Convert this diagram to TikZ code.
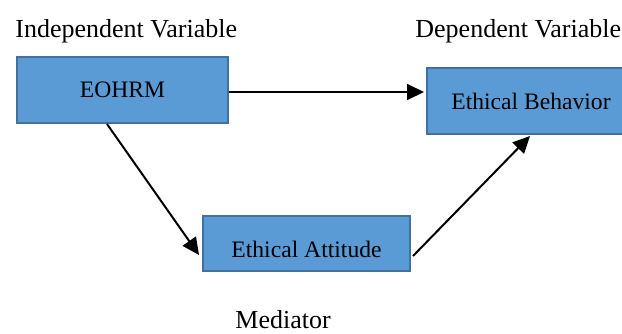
\documentclass[tikz,border=0pt]{standalone}
\usepackage{fontspec}
\setmainfont{Liberation Serif}
\usetikzlibrary{arrows.meta}
\definecolor{boxfill}{HTML}{5B9BD5}
\definecolor{boxline}{HTML}{41719C}
\tikzset{
  varbox/.style={draw=boxline, line width=1pt, fill=boxfill, inner sep=0pt,
    font=\fontsize{11.8}{14}\selectfont, text=black},
  varlabel/.style={font=\fontsize{13}{15}\selectfont, inner sep=0pt, anchor=base west},
  link/.style={line width=1pt, -{Triangle[length=8.5pt,width=8pt]}}
}
\begin{document}
\begin{tikzpicture}[x=0.5pt,y=-0.5pt]
\useasboundingbox (0,0) rectangle (622,333);
\node[varlabel] (ivlabel) at (15,37) {Independent Variable};
\node[varlabel] (dvlabel) at (415,37) {Dependent Variable};
\node[varlabel] (medlabel) at (235,328.5) {Mediator};
\node[varbox, minimum width=105.5pt, minimum height=33pt] (eohrm) at (122.5,90) {EOHRM};
\node[varbox, minimum width=104pt, minimum height=33pt] (eb) at (531,101) {Ethical Behavior};
\node[varbox, minimum width=103.5pt, minimum height=27.5pt, text height=13.8pt, text depth=0pt] (ea) at (306.5,243.5) {Ethical Attitude};
\draw[link] ([yshift=-1pt]eohrm.east) -- ([xshift=-1pt,yshift=-1pt]eohrm.east -| eb.west);
\draw[link] ([xshift=-7.75pt]eohrm.south) -- ([xshift=-1.5pt,yshift=-5.75pt]ea.west);
\draw[link] ([xshift=1pt,yshift=-6.25pt]ea.east) -- ([xshift=-0.5pt,yshift=-0.5pt]eb.south);
\end{tikzpicture}
\end{document}
